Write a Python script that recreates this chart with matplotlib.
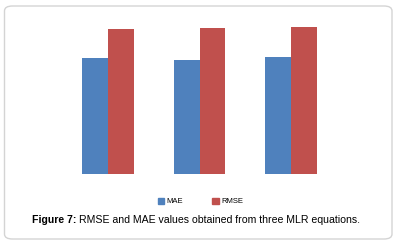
import matplotlib.pyplot as plt
import numpy as np
from matplotlib.patches import FancyBboxPatch, Patch

# bar heights in arbitrary units (no axis shown in the original)
equations = ['Eq. 1', 'Eq. 2', 'Eq. 3']
mae = [11.54, 11.40, 11.70]
rmse = [14.44, 14.60, 14.70]

W, H = 399, 245
fig = plt.figure(figsize=(W / 100, H / 100), dpi=100)
plt.rcParams['font.family'] = ['Liberation Sans', 'DejaVu Sans']

# rounded frame round the figure
frame = FancyBboxPatch((4.5 / W, 6 / H), 387.5 / W, 233 / H,
                       boxstyle='round,pad=0,rounding_size=0.02',
                       transform=fig.transFigure, facecolor='white',
                       edgecolor='#d4d4d4', linewidth=1.0, zorder=-1)
fig.patches.append(frame)

ax = fig.add_axes([62.25 / W, (H - 173.7) / H, 274.5 / W, 153.7 / H])
ax.set_zorder(2)
x = np.arange(len(equations))
bw = 0.284
ax.bar(x - bw / 2, mae, bw, color='#4F81BD', label='MAE')
ax.bar(x + bw / 2, rmse, bw, color='#C0504D', label='RMSE')
ax.set_xlim(-0.5, 2.5)
ax.set_ylim(0, 15.37)
ax.axis('off')

# legend
handles = [Patch(color='#4F81BD', label='MAE'), Patch(color='#C0504D', label='RMSE')]
leg = fig.legend(handles=handles, loc='center', bbox_to_anchor=(200.5 / W, (H - 201.5) / H),
                 ncol=2, frameon=False, fontsize=5.5, handlelength=0.9, handleheight=0.9,
                 handletextpad=0.3, columnspacing=3.8)
leg.set_zorder(3)

# caption: bold label followed by normal text
fig.canvas.draw()
r = fig.canvas.get_renderer()
cy = (H - 219.7) / H
t1 = fig.text(32 / W, cy, 'Figure 7:', fontsize=7.6, fontweight='bold', va='center', zorder=3)
bb = t1.get_window_extent(r)
fig.text(bb.x1 / W + 3 / W, cy,
         'RMSE and MAE values obtained from three MLR equations.',
         fontsize=7.6, va='center', zorder=3)

fig.savefig('out.png', dpi=100)
